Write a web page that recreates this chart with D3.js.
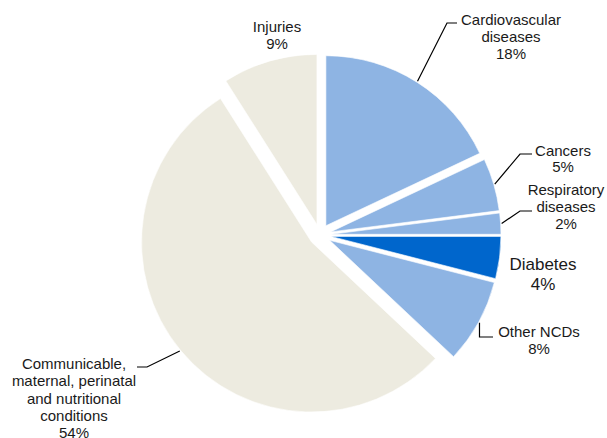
<!DOCTYPE html>
<html>
<head>
<meta charset="utf-8">
<script src="https://cdn.jsdelivr.net/npm/d3@7"></script>
<style>
  body { margin: 0; background: #fff; }
  svg { display: block; font-family: 'Liberation Sans', Arial, sans-serif; }
  .slice-label { fill: #1a1a1a; }
  .leader { fill: none; stroke: #000; stroke-width: 1.2; }
</style>
</head>
<body>
<svg id="chart" width="607" height="438"></svg>
<script>
// data, clockwise from 12 o'clock
const categories = [
  'Cardiovascular diseases', 'Cancers', 'Respiratory diseases', 'Diabetes',
  'Other NCDs', 'Communicable, maternal, perinatal and nutritional conditions',
  'Injuries'
];
const values = [18, 5, 2, 4, 8, 54, 9];
const labelLines = [
  ['Cardiovascular', 'diseases'],
  ['Cancers'],
  ['Respiratory', 'diseases'],
  ['Diabetes'],
  ['Other NCDs'],
  ['Communicable,', 'maternal, perinatal', 'and nutritional', 'conditions'],
  ['Injuries']
];

const LightBlue = '#8EB4E3';
const DarkBlue = '#0066CC';
const Beige = '#EDEBE0';
const sliceColors = [LightBlue, LightBlue, LightBlue, DarkBlue, LightBlue, Beige, Beige];

const Center = [320, 235];
const Radius = 170;
const Explode = 11;

// label placement: anchor x, first baseline, font size, line height, leader bends
const labelLayout = [
  { x: 511, y: 25, size: 15, lh: 17, leader: [[447, 23], [457, 23]] },
  { x: 563, y: 156, size: 15, lh: 16, leader: [[520, 154], [532, 154]] },
  { x: 566, y: 195, size: 15, lh: 17, leader: [[520, 211], [532, 211]] },
  { x: 543, y: 270, size: 17, lh: 20, leader: null },
  { x: 539, y: 337, size: 15, lh: 17, leader: [[null, 337], [493, 337]] },
  { x: 74, y: 369, size: 15, lh: 17.25, leader: [[147, 367], [137, 367]] },
  { x: 277, y: 32, size: 15, lh: 17, leader: null }
];

const svg = d3.select('#chart');
const pie = d3.pie().sort(null).value(d => d);
const arc = d3.arc().innerRadius(0).outerRadius(Radius);
const arcs = pie(values);

const offsetOf = a => {
  const mid = (a.startAngle + a.endAngle) / 2;
  return [Math.sin(mid) * Explode, -Math.cos(mid) * Explode];
};

const g = svg.append('g')
  .attr('transform', `translate(${Center[0]},${Center[1]})`);

g.selectAll('path.slice')
  .data(arcs)
  .enter().append('path')
    .classed('slice', true)
    .attr('d', arc)
    .attr('fill', (d, i) => sliceColors[i])
    .attr('stroke', '#fff')
    .attr('stroke-width', 0.6)
    .attr('transform', d => {
      const [dx, dy] = offsetOf(d);
      return `translate(${dx},${dy})`;
    });

// leaders start on the outer arc at the slice bisector
const lineGen = d3.line();
arcs.forEach((a, i) => {
  const layout = labelLayout[i];
  if (!layout.leader) return;
  const mid = (a.startAngle + a.endAngle) / 2;
  const [dx, dy] = offsetOf(a);
  const sx = Center[0] + dx + Math.sin(mid) * (Radius + 1);
  const sy = Center[1] + dy - Math.cos(mid) * (Radius + 1);
  const pts = [[sx, sy]].concat(layout.leader.map(p => [p[0] == null ? sx : p[0], p[1]]));
  svg.append('path')
    .classed('leader', true)
    .attr('d', lineGen(pts));
});

const labels = svg.selectAll('text.slice-label')
  .data(arcs)
  .enter().append('text')
    .classed('slice-label', true)
    .attr('text-anchor', 'middle')
    .style('font-size', (d, i) => `${labelLayout[i].size}px`);

labels.each((d, i, nodes) => {
  const layout = labelLayout[i];
  const lines = labelLines[i].concat([`${values[i]}%`]);
  d3.select(nodes[i]).selectAll('tspan')
    .data(lines)
    .enter().append('tspan')
      .attr('x', layout.x)
      .attr('y', (t, j) => layout.y + j * layout.lh)
      .text(t => t);
});
</script>
</body>
</html>
